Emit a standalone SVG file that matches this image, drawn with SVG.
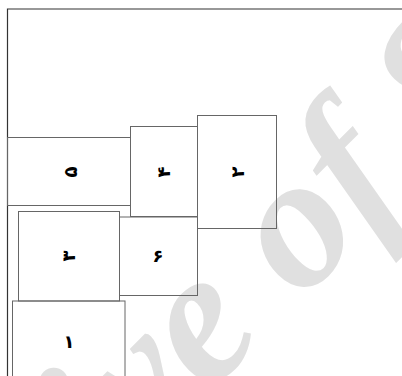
<svg xmlns="http://www.w3.org/2000/svg" width="402" height="376" viewBox="0 0 402 376">
<style>
.frame{fill:none;stroke:#333;stroke-width:1.2}
.box{fill:none;stroke:#666;stroke-width:1}
.lbl{font-family:"DejaVu Sans",sans-serif;font-size:18px;font-weight:bold;fill:#000;text-anchor:middle;dominant-baseline:central}
.wm{font-family:"Liberation Serif",serif;font-style:italic;font-weight:bold;font-size:190px;fill:#e0e0e0}
</style>
<rect width="402" height="376" fill="#fff"/>
<text class="wm" transform="translate(-166,768) rotate(-45)">Archive of SID</text>
<path class="frame" d="M7.5,376 V9 H402"/>
<g id="n5"><rect class="box" x="7.5" y="137.5" width="123" height="68"/><text class="lbl" x="70" y="172" transform="rotate(-90 70 172)">۵</text></g>
<g id="n4"><rect class="box" x="130.5" y="126.5" width="67" height="90"/><text class="lbl" x="163" y="172" transform="rotate(-90 163 172)">۴</text></g>
<g id="n2"><rect class="box" x="197.5" y="115.5" width="79" height="113"/><text class="lbl" x="237" y="172" transform="rotate(-90 237 172)">۲</text></g>
<g id="n3"><rect class="box" x="18.5" y="211.5" width="101" height="89.5"/><text class="lbl" x="68" y="256" transform="rotate(-90 68 256)">۳</text></g>
<g id="n6"><rect class="box" x="119.5" y="217" width="78" height="78.5"/><text class="lbl" x="158" y="255">۶</text></g>
<g id="n1"><rect class="box" x="12.5" y="301" width="112.5" height="80"/><text class="lbl" x="69" y="341">۱</text></g>
<g id="connectors"></g>
</svg>
